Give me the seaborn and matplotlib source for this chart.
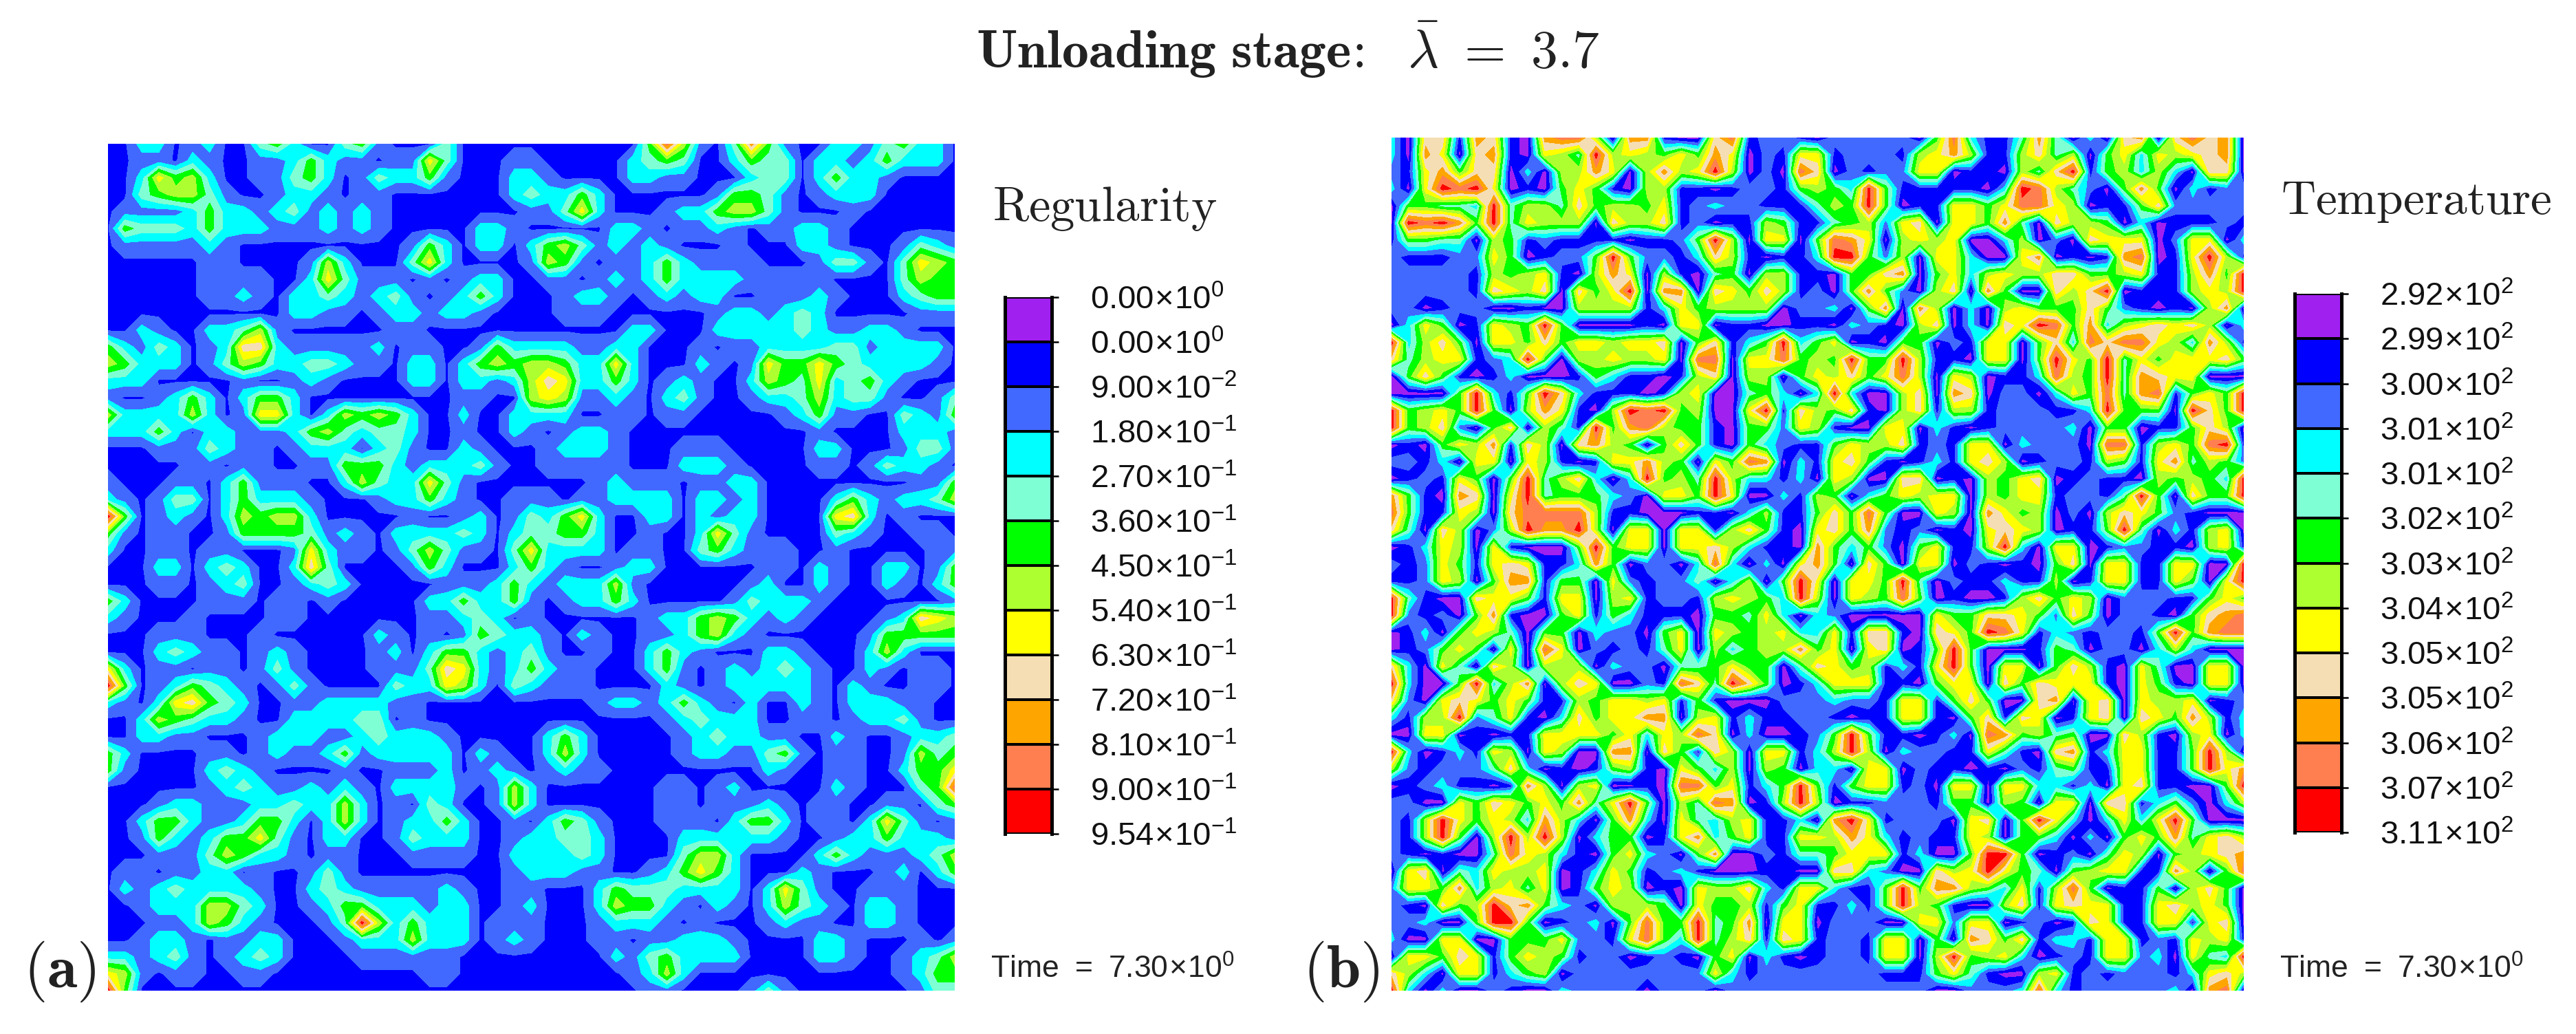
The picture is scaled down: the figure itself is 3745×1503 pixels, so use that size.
import numpy as np
import seaborn as sns
import matplotlib
matplotlib.use("Agg")
import matplotlib.pyplot as plt
from matplotlib.colors import ListedColormap

# contour band read at each mesh node, row 0 is the top of the panel
# 0 purple 1 blue 2 royal 3 cyan 4 aqua 5 green 6 greenyellow 7 yellow 8 wheat 9 orange a coral b red
regularity_rows = [
    "1133123114" "5311452111" "411111" "1111115a62" "1495211332" "45331",
    "1122132112" "2353221227" "411122" "1111134541" "1354413323" "53331",
    "1137563112" "2453124335" "211133" "2111133221" "1134413533" "21111",
    "1145664211" "2332122111" "111134" "3353111111" "2554212333" "11111",
    "1222235332" "3423232111" "111112" "2473111233" "5664211121" "11111",
    "1544435333" "2223232111" "113321" "1111332122" "3212233211" "11111",
    "1222223211" "1111111125" "313313" "5642323211" "1211133211" "12432",
    "1111112211" "1126311147" "311112" "6521223532" "2221112442" "14765",
    "1111112222" "1137422212" "123311" "2212323533" "3322222111" "14655",
    "1111112232" "1334323421" "235311" "1233212323" "3112223211" "13455",
    "1111111111" "1332212332" "332111" "1222111111" "2332343111" "11222",
    "1132113346" "2111111221" "111111" "1111133111" "3333343223" "32111",
    "5324312388" "3222223122" "112533" "3322331112" "1223333442" "33331",
    "6533312465" "3344322133" "135656" "6533731113" "2127557543" "33321",
    "3331111121" "1232111133" "133236" "8733531232" "1136547345" "32111",
    "2112353135" "5311111111" "122116" "7622321342" "1123346344" "21124",
    "6333363127" "7313656531" "131133" "3311221221" "1111235221" "14325",
    "3335313322" "2356434431" "121132" "1233211111" "1111112111" "13332",
    "1112224322" "1233313421" "132111" "2333211122" "2111113311" "12442",
    "1111122122" "1122555323" "334211" "2222211133" "3211112212" "43321",
    "2111221352" "2211364337" "421111" "1112322212" "2331111111" "11225",
    "3212441353" "3321112335" "321122" "2122333313" "3231111353" "23346",
    "b512321365" "6631111121" "123124" "3573113313" "2331111783" "12111",
    "5212211255" "5542321333" "343134" "4553112113" "7421111432" "11221",
    "3112212211" "1273221246" "422147" "3333122114" "5322211211" "11122",
    "1113313431" "1384111125" "311135" "3211233111" "1112213211" "33125",
    "1112212341" "1234311111" "222353" "2333621111" "1123113211" "32135",
    "5311112221" "2212111113" "353352" "1233531111" "1243332111" "11112",
    "3211121111" "2211111112" "234312" "1111112335" "6532321111" "23876",
    "1112221112" "1111113212" "125433" "2132112235" "6321111112" "55555",
    "1113432212" "3211112313" "553234" "2112113532" "1113321113" "63111",
    "7312212212" "4211112224" "873235" "3221113521" "2323432113" "21221",
    "b512354321" "2421111433" "763143" "2221111321" "2333332132" "11221",
    "3213785431" "1223333221" "111111" "1112332353" "2131132133" "32211",
    "1136543321" "1333344121" "111111" "1111111234" "3331122123" "34211",
    "1133221112" "3332234333" "211111" "3531111123" "4332211321" "12334",
    "5311112212" "3223523333" "313211" "3631111123" "3224521221" "12645",
    "5211113432" "1111211222" "312321" "2322111111" "1113211221" "13557",
    "1111112343" "2232321333" "321263" "1111111221" "2311111321" "1145a",
    "1112332223" "3433631214" "311263" "1111111221" "2223212211" "22145",
    "1135532235" "5313631233" "531121" "3542111222" "1355312213" "74212",
    "1125323557" "4213311243" "331123" "3443111133" "3333211233" "53332",
    "1112224653" "3212211122" "221133" "3343111146" "6311113532" "22346",
    "1221223312" "1124211111" "111123" "3322112357" "5311132111" "23135",
    "1323433332" "1134322222" "321122" "1113544433" "3313742112" "22111",
    "1123336643" "1123553332" "331123" "1113655321" "3213643213" "32111",
    "1112236532" "11124b6353" "331222" "1112333212" "1112322113" "32111",
    "1123321223" "3111233363" "331232" "1112212233" "3211113321" "11212",
    "3323421234" "3111122222" "211111" "1111324533" "3311113321" "12346",
    "7621221122" "1111111112" "211111" "1111123631" "1111111111" "12355",
    "b511111111" "1111111111" "111111" "1111112211" "1124211111" "11244",
]
temperature_rows = [
    "3088198109" "aa60991008" "a12210" "2222205a31" "1494030890" "8a890",
    "3097089107" "64b6765759" "702177" "1222167961" "1684605737" "67890",
    "2179588030" "669706967b" "6020a8" "0212277011" "0648b15636" "30880",
    "307bab7010" "5751066110" "122156" "53b5111110" "3ba6420595" "03122",
    "055443b466" "4856657123" "221114" "65b5011775" "7aa7601158" "22222",
    "0bab95b476" "6608668120" "116511" "4562780775" "9408665030" "11121",
    "1554406512" "111101125b" "607705" "a970676700" "3602087770" "27703",
    "2111227501" "225b522138" "610113" "bb52607730" "07901019a0" "17b61",
    "2222216567" "1069706104" "506611" "0558905736" "7668855671" "1695b",
    "2222218768" "0857b09908" "758612" "0595206809" "500868b011" "1676b",
    "2201220010" "0666613756" "666022" "3059096030" "6755585210" "10690",
    "037501765b" "5000010770" "110011" "0321068030" "87ba593678" "78603",
    "b368507758" "5776778058" "135b35" "7010550217" "70583a8aa7" "63961",
    "84677123b5" "06676670aa" "077a56" "5b55b61107" "705b75b475" "77785",
    "0585101300" "0153110168" "066057" "6857a60760" "113a65b498" "77000",
    "00005b315b" "8311101670" "045303" "b300680980" "220375a49a" "1575b",
    "b5675b5069" "7106bab560" "07b186" "5810681661" "222113b555" "0b85b",
    "b568205806" "41b59a6551" "055276" "1007703101" "2222305501" "15860",
    "0105769186" "0896505851" "053211" "5766812177" "032220aa16" "75ab1",
    "2213077076" "1017796507" "5a9031" "7851013178" "6012216517" "94652",
    "01217505b4" "68303b564b" "633130" "7600880106" "5780121106" "5653b",
    "95109807b4" "555320775b" "700316" "5035767706" "57712214b5" "0855b",
    "a5117608aa" "aa61100011" "036115" "85a5007609" "7560206875" "21000",
    "84086026b9" "9b60770771" "685107" "8592120107" "8760115b40" "31670",
    "0137607100" "05b5770778" "631109" "5352057116" "b307701221" "10671",
    "2127517871" "139502203a" "303079" "5085077021" "0105807711" "7700b",
    "1127605991" "5507212240" "3605b7" "0775b40211" "3116017711" "7507b",
    "b410087751" "7706712216" "7653b6" "0765a50100" "1685760222" "11575",
    "b212059100" "5715311105" "547303" "2000007558" "8752850221" "0589a",
    "0130576405" "5032205707" "656733" "718810875b" "a713212215" "b59aa",
    "012575070a" "7021214706" "356695" "7078015b50" "0015402203" "63000",
    "8307408606" "6603220445" "755048" "7561317b50" "7705861074" "00770",
    "b3005b3690" "6870021a84" "b85013" "7771105770" "8587771075" "10770",
    "8207875751" "1657767151" "000222" "3221771585" "0089078076" "67012",
    "3166b24710" "3857799067" "131122" "1011771058" "1870178087" "59613",
    "0077010117" "77757376a8" "030012" "5b5110130a" "9564500861" "06703",
    "b301317607" "6009908518" "607713" "6b60322117" "4108913771" "15b60",
    "6212224830" "1015610753" "606503" "3077021101" "0214511771" "15b79",
    "0123110196" "0670010aa5" "7135b5" "1577120770" "7733130781" "1005b",
    "2200758757" "5947b5064a" "9016b6" "0112221550" "6507708813" "52036",
    "216b757639" "6305930743" "671130" "9b71222078" "05b7303737" "b5000",
    "216b506b6b" "6035501793" "571177" "6973121176" "0553030575" "94786",
    "2101004a76" "3105732059" "002144" "577713005b" "b501204760" "56789",
    "0780437667" "0137512310" "001100" "883200867b" "7540567711" "9605a",
    "2775936747" "0157601076" "683177" "3115b59965" "3716a50115" "06850",
    "210856b895" "3206665075" "561571" "1315b65100" "6817877117" "86750",
    "223005bb50" "12305a55b4" "590770" "2220077277" "0120187117" "71780",
    "3007700555" "72217a53b4" "681871" "2217705098" "5813317712" "17671",
    "0775871576" "5122012105" "703101" "2217706b56" "7301217723" "0743b",
    "8630771356" "0222222227" "312222" "2221115741" "0067121222" "13786",
    "b303002100" "3222202220" "222222" "2222220022" "23a3122222" "309a0",
]

band_colors = ["#A020F0", "#0000FF", "#4169FF", "#00FFFF", "#7FFFD4", "#00FF00",
               "#ADFF2F", "#FFFF00", "#F5DEB3", "#FFA500", "#FF7F50", "#FF0000"]
regularity_ticks = ["0.00", "0.00", "9.00", "1.80", "2.70", "3.60", "4.50", "5.40", "6.30", "7.20", "8.10", "9.00", "9.54"]
regularity_exps = ["0", "0", "-2", "-1", "-1", "-1", "-1", "-1", "-1", "-1", "-1", "-1", "-1"]
temperature_ticks = ["2.92", "2.99", "3.00", "3.01", "3.01", "3.02", "3.03", "3.04", "3.05", "3.05", "3.06", "3.07", "3.11"]
temperature_exps = ["2"] * 13

sns.set_theme(style="white")
plt.rcParams["mathtext.fontset"] = "custom"
plt.rcParams["mathtext.rm"] = "Liberation Sans"
plt.rcParams["mathtext.fallback"] = "cm"
plt.rcParams["font.family"] = ["Liberation Sans", "DejaVu Sans"]

W, H = 3745, 1503
fig = plt.figure(figsize=(W / 100, H / 100), dpi=100)


def px_axes(x0, y0, x1, y1):
    return fig.add_axes([x0 / W, 1 - y1 / H, (x1 - x0) / W, (y1 - y0) / H])


def draw_panel(rows, box, background=0.5):
    for r in rows:
        assert len(r) == 51, (len(r), r)
    z = np.array([[int(c, 16) + 0.5 for c in r] for r in rows])
    # blue background sits just under the first contour
    z[z == 1.5] = 1 + background
    ax = px_axes(*box)
    ax.contourf(np.arange(51), np.arange(51), z, levels=np.arange(13), colors=band_colors, antialiased=False)
    ax.invert_yaxis()
    ax.set_axis_off()


def draw_legend(ticks, exps, box):
    ax = px_axes(*box)
    strip = np.arange(12).reshape(12, 1)
    sns.heatmap(strip, cmap=ListedColormap(band_colors), cbar=False, linewidths=1.6,
                linecolor="black", xticklabels=False, ax=ax)
    for side in ["left", "right"]:
        ax.spines[side].set_visible(True)
        ax.spines[side].set_linewidth(3.6)
        ax.spines[side].set_color("black")
    ax.yaxis.tick_right()
    ax.set_yticks(np.arange(13))
    labels = [r"$\mathrm{%s\!\times\!10^{%s}}$" % (t, e) for t, e in zip(ticks, exps)]
    ax.set_yticklabels(labels, rotation=0, fontsize=34, color="#111111")
    ax.tick_params(axis="y", right=True, length=7.5, width=1.8, color="black", pad=33)
    return ax


draw_panel(regularity_rows, (157, 209, 1388, 1440), background=0.85)
draw_panel(temperature_rows, (2023, 200, 3262, 1440))
draw_legend(regularity_ticks, regularity_exps, (1461, 432, 1529, 1212))
draw_legend(temperature_ticks, temperature_exps, (3336, 427, 3404, 1210))


def put(x, y, s, size, ha="left", fam="cm"):
    fig.text(x / W, 1 - y / H, s, fontsize=size, ha=ha, va="center", color="#222222", math_fontfamily=fam)


put(1872, 72, r"$\mathbf{Unloading\ stage}\!\mathbf{:}\ \ \bar{\lambda}\ =\ 3.7$", 56, ha="center")
put(1443, 304, r"$\mathrm{Regularity}$", 51)
put(3316, 294, r"$\mathrm{Temperature}$", 50)
put(34, 1412, r"$\mathbf{(a)}$", 64)
put(1894, 1412, r"$\mathbf{(b)}$", 64)
time_label = r"$\mathrm{Time\ =\ 7.30\!\times\!10^{0}}$"
put(1440, 1409, time_label, 32, fam="custom")
put(3314, 1409, time_label, 32, fam="custom")

fig.savefig("out.png", dpi=100, facecolor="white")
